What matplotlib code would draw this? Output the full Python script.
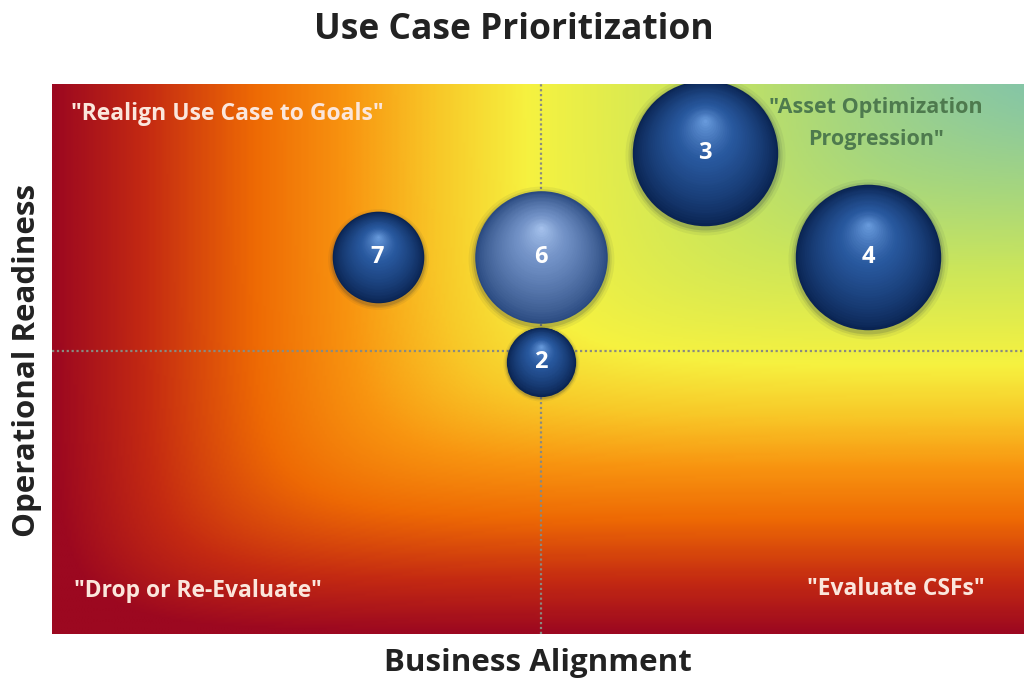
import numpy as np
import matplotlib
matplotlib.use("Agg")
import matplotlib.pyplot as plt
from matplotlib.colors import LinearSegmentedColormap, to_rgb
from matplotlib.transforms import offset_copy

plt.rcParams['font.family'] = ['Open Sans', 'DejaVu Sans']

# ---- data ----
use_cases = ["7", "6", "2", "3", "4"]
business_alignment = [3.35, 5.03, 5.03, 6.72, 8.40]
operational_readiness = [6.85, 6.85, 4.95, 8.75, 6.85]
bubble_value = [21, 44, 12, 53, 53]
threshold_x = 5.03
threshold_y = 5.15
quadrant_labels = ['"Realign Use Case to Goals"', '"Asset Optimization\nProgression"',
                   '"Drop or Re-Evaluate"', '"Evaluate CSFs"']
title = "Use Case Prioritization"
xlabel = "Business Alignment"
ylabel = "Operational Readiness"

fig = plt.figure(figsize=(10.24, 6.84), dpi=100)
ax = fig.add_axes([52/1024, 50/684, 972/1024, 550/684])
ax.set_xlim(0, 10)
ax.set_ylim(0, 10)

# background gradient (smooth min of x and y)
nx, ny = 400, 300
gx = np.linspace(0, 1, nx)
gy = np.linspace(0, 1, ny)
X, Y = np.meshgrid(gx, gy)
k = 12.0
T = -np.log(np.exp(-k * X) + np.exp(-k * Y)) / k
T = np.clip(T, 0, 1)
cmap = LinearSegmentedColormap.from_list("bg", [
    (0.00, "#9c0820"), (0.10, "#c42a12"), (0.22, "#ee6a04"), (0.32, "#f89410"),
    (0.42, "#f8c828"), (0.52, "#f6f240"), (0.70, "#cce65a"), (0.85, "#a6d67e"),
    (1.00, "#86c6a6")])
ax.imshow(T, cmap=cmap, extent=[0, 10, 0, 10], origin="lower", aspect="auto",
          zorder=0, interpolation="bilinear")

# threshold lines
ax.axvline(threshold_x, color="#8a8a80", linestyle=(0, (1, 1.2)), lw=1.6, zorder=1)
ax.axhline(threshold_y, color="#8a8a80", linestyle=(0, (1, 1.2)), lw=1.6, zorder=1)


def mix(c1, c2, t):
    a = np.array(to_rgb(c1)); b = np.array(to_rgb(c2))
    return tuple(a + (b - a) * t)


def sphere(x, y, value, label, edge, mid, light):
    s = value * 207.0
    r = np.sqrt(s) / 2.0  # radius in points
    # soft dark halo
    for fs, al in [(1.10, 0.06), (1.06, 0.09), (1.03, 0.14)]:
        sh = offset_copy(ax.transData, fig=fig, x=0, y=-r * 0.03, units="points")
        ax.scatter([x], [y], s=s * fs * fs, color="#102040", alpha=al, lw=0,
                   transform=sh, zorder=3)
    n = 40
    for i in range(n):
        f = 1.0 - i / n
        tt = (1 - f)
        if tt < 0.6:
            col = mix(edge, mid, (tt / 0.6) ** 0.8)
        else:
            col = mix(mid, light, ((tt - 0.6) / 0.4) ** 1.2)
        tr = offset_copy(ax.transData, fig=fig, x=0, y=r * (1 - f) * 0.45,
                         units="points")
        ax.scatter([x], [y], s=s * f * f, color=col, lw=0, transform=tr,
                   zorder=4)
    ax.text(x, y, label, ha="center", va="center", color="white",
            fontsize=17, fontweight="bold", zorder=6)


for i, lab in enumerate(use_cases):
    if lab == "6":
        sphere(business_alignment[i], operational_readiness[i], bubble_value[i],
               lab, "#2a4a80", "#6f8fc4", "#a8c4ee")
    else:
        sphere(business_alignment[i], operational_readiness[i], bubble_value[i],
               lab, "#0a2452", "#28589e", "#6c9ee0")

# quadrant labels
ax.text(0.2, 9.45, quadrant_labels[0], ha="left", va="center", color="#fbe6dc",
        fontsize=16.5, fontweight="bold", zorder=7)
ax.text(8.48, 9.28, quadrant_labels[1], ha="center", va="center", color="#4e7a4e",
        fontsize=15.5, fontweight="bold", linespacing=1.65, zorder=7)
ax.text(0.23, 0.78, quadrant_labels[2], ha="left", va="center", color="#fbe6dc",
        fontsize=16.5, fontweight="bold", zorder=7)
ax.text(9.6, 0.82, quadrant_labels[3], ha="right", va="center", color="#fbe6dc",
        fontsize=16.5, fontweight="bold", zorder=7)

ax.set_xticks([])
ax.set_yticks([])
for sp in ax.spines.values():
    sp.set_visible(False)

fig.text(514/1024, 1 - 30/684, title, ha="center", va="center", fontsize=25.5,
         fontweight="bold", color="#222222")
fig.text(538/1024, 1 - 663/684, xlabel, ha="center", va="center", fontsize=22.5,
         fontweight="bold", color="#222222")
fig.text(27/1024, 1 - 360/684, ylabel, ha="center", va="center", fontsize=22.5,
         fontweight="bold", color="#222222", rotation=90)

fig.savefig("out.png", dpi=100)
